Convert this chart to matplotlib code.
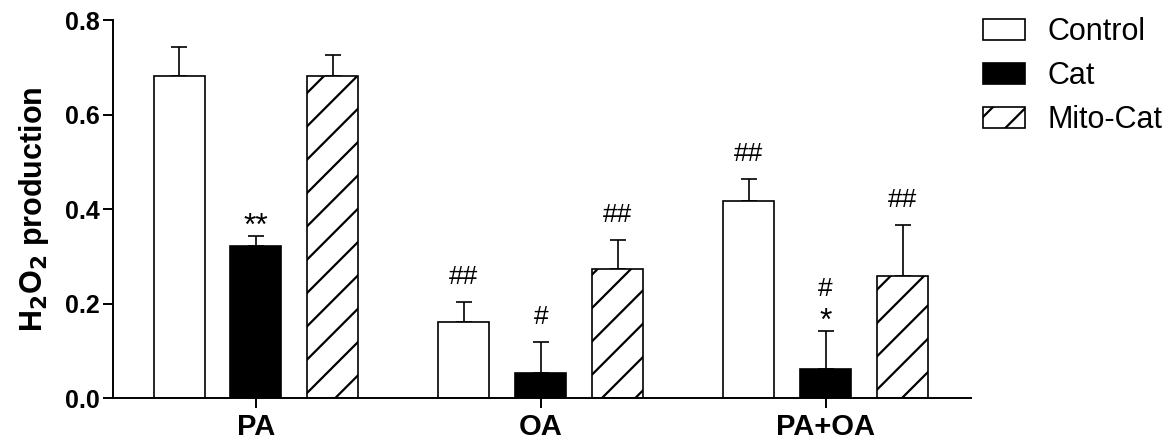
import numpy as np
import matplotlib
matplotlib.use("Agg")
import matplotlib.pyplot as plt

plt.rcParams['font.family'] = ['Liberation Sans', 'DejaVu Sans']
plt.rcParams['hatch.linewidth'] = 1.6

# H2O2 production, mean and SEM per treatment
groups = ["PA", "OA", "PA+OA"]
series = ["Control", "Cat", "Mito-Cat"]
means = {"Control":  [0.681, 0.161, 0.417],
         "Cat":      [0.322, 0.052, 0.062],
         "Mito-Cat": [0.681, 0.274, 0.258]}
sems = {"Control":  [0.062, 0.042, 0.046],
        "Cat":      [0.021, 0.067, 0.080],
        "Mito-Cat": [0.045, 0.060, 0.108]}
# significance marks, listed from the bar upward
marks = {"Control":  [[], ["##"], ["##"]],
         "Cat":      [["**"], ["#"], ["*", "#"]],
         "Mito-Cat": [[], ["##"], ["##"]]}

styles = {"Control":  dict(facecolor="white", hatch=None),
          "Cat":      dict(facecolor="black", hatch=None),
          "Mito-Cat": dict(facecolor="white", hatch="/")}

fig = plt.figure(figsize=(11.72, 4.41), dpi=100)
ax = fig.add_axes([0.0964, 0.0975, 0.7325, 0.857])

x = np.arange(len(groups))
width = 0.179
offset = 0.27
lw = 1.2
for k, name in enumerate(series):
    xs = x + (k - 1)*offset
    m = np.array(means[name])
    e = np.array(sems[name])
    ax.bar(xs, m, width, edgecolor="black", linewidth=lw, label=name,
           zorder=2, **styles[name])
    ax.errorbar(xs, m, yerr=[np.zeros_like(e), e], fmt="none", ecolor="black",
                elinewidth=lw, capsize=5.6, capthick=lw, zorder=1)
    for xi, top, lab in zip(xs, m + e, marks[name]):
        dy = None
        for s in lab:
            # stars sit high in the line box, hashes need more room
            star = s.startswith("*")
            dy = (0.5 if star else 13) if dy is None else dy + 24.5
            ax.annotate(s, (xi, top), xytext=(0, dy), textcoords="offset points",
                        ha="center", va="baseline", fontsize=23 if star else 19)

ax.set_xlim(-0.502, 2.512)
ax.set_ylim(0, 0.8)
ax.set_yticks([0.0, 0.2, 0.4, 0.6, 0.8])
ax.set_yticklabels(["0.0", "0.2", "0.4", "0.6", "0.8"])
ax.set_xticks(x)
ax.set_xticklabels(groups)
for lab in ax.get_yticklabels():
    lab.set_fontsize(18)
    lab.set_fontweight("bold")
for lab in ax.get_xticklabels():
    lab.set_fontsize(21)
    lab.set_fontweight("bold")
ax.tick_params(axis="both", width=1.4, length=7.5, direction="out")
ax.tick_params(axis="y", pad=2)
ax.tick_params(axis="x", pad=3)
ax.spines["top"].set_visible(False)
ax.spines["right"].set_visible(False)
ax.spines["left"].set_linewidth(1.4)
ax.spines["bottom"].set_linewidth(1.4)
ax.set_ylabel("H$_\\mathbf{2}$O$_\\mathbf{2}$ production", fontsize=22, fontweight="bold", labelpad=10)

leg = fig.legend(loc="upper left", bbox_to_anchor=(983/1172, 1 - 17/441), frameon=False,
                 fontsize=22, handlelength=1.37, handleheight=0.69, handletextpad=0.75,
                 labelspacing=0.46, borderpad=0, borderaxespad=0)

fig.savefig("out.png", dpi=100)
